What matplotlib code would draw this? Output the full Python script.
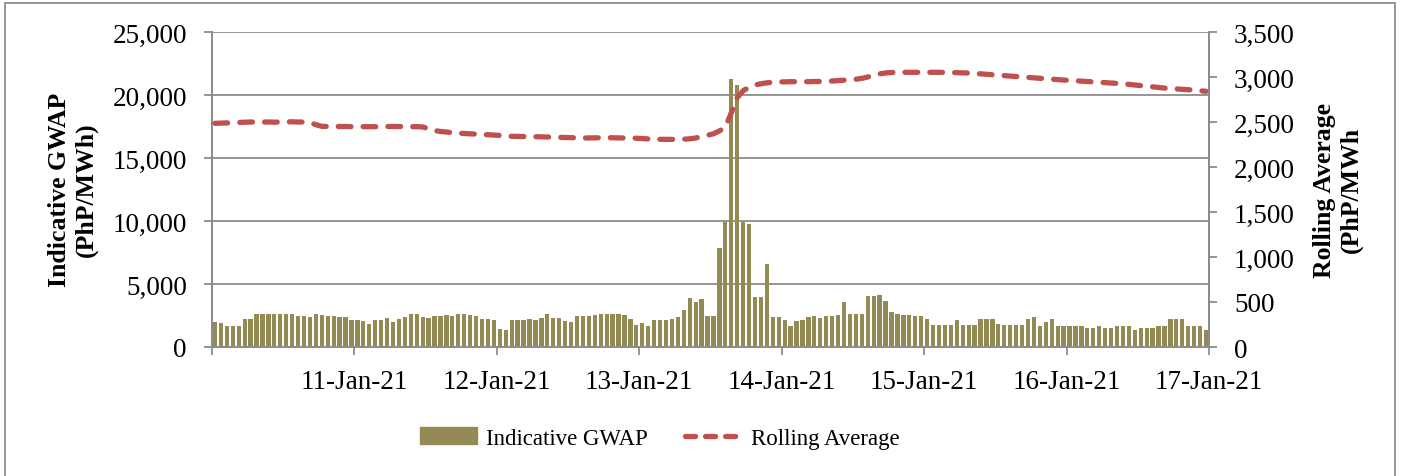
import matplotlib
matplotlib.use("Agg")
import matplotlib.pyplot as plt
import numpy as np
from matplotlib.patches import Rectangle
from matplotlib.lines import Line2D
from matplotlib.patches import Patch

plt.rcParams['font.family'] = ['Liberation Serif', 'DejaVu Serif']

# hourly Indicative GWAP, 10-Jan-21 00:00 .. 16-Jan-21 23:00 (PhP/MWh)
gwap_d1 = [2020, 1915, 1700, 1700, 1700, 2200, 2200, 2580, 2580, 2580, 2580, 2580,
           2580, 2580, 2450, 2450, 2420, 2580, 2530, 2450, 2450, 2420, 2420, 2180]
gwap_d2 = [2180, 2100, 1835, 2150, 2150, 2310, 2020, 2200, 2420, 2580, 2580, 2420,
           2290, 2470, 2470, 2530, 2450, 2580, 2580, 2530, 2450, 2260, 2260, 2150]
gwap_d3 = [1435, 1380, 2150, 2150, 2150, 2200, 2180, 2340, 2580, 2310, 2340, 2100,
           1970, 2470, 2470, 2470, 2530, 2580, 2580, 2580, 2580, 2560, 2200, 1730]
gwap_d4 = [1940, 1650, 2130, 2130, 2150, 2230, 2370, 2925, 3860, 3560, 3830, 2500,
           2500, 7820, 9920, 21280, 20770, 9890, 9760, 3960, 3960, 6620, 2420, 2370]
gwap_d5 = [2180, 1650, 2100, 2180, 2370, 2500, 2310, 2500, 2500, 2540, 3580, 2580,
           2580, 2580, 4040, 4040, 4150, 3620, 2740, 2580, 2530, 2530, 2470, 2470]
gwap_d6 = [2230, 1730, 1730, 1730, 1730, 2180, 1730, 1730, 1730, 2230, 2230, 2230,
           1860, 1730, 1730, 1730, 1730, 2230, 2390, 1700, 2020, 2230, 1700, 1700]
gwap_d7 = [1700, 1700, 1700, 1520, 1520, 1700, 1520, 1520, 1700, 1700, 1700, 1360,
           1520, 1520, 1520, 1700, 1700, 2230, 2230, 2230, 1650, 1700, 1700, 1360]

# rolling average
roll_d1 = [2485, 2488, 2490, 2492, 2495, 2497, 2500, 2500, 2500, 2500, 2498, 2500,
           2502, 2502, 2500, 2500, 2495, 2470, 2452, 2450, 2450, 2450, 2450, 2448]
roll_d2 = [2448, 2448, 2448, 2448, 2448, 2450, 2450, 2450, 2450, 2448, 2448, 2445,
           2425, 2405, 2395, 2388, 2382, 2376, 2372, 2368, 2365, 2362, 2359, 2355]
roll_d3 = [2350, 2345, 2341, 2340, 2339, 2338, 2337, 2335, 2333, 2331, 2330, 2328,
           2325, 2323, 2322, 2323, 2325, 2326, 2326, 2325, 2324, 2323, 2322, 2320]
roll_d4 = [2316, 2312, 2308, 2307, 2307, 2307, 2307, 2309, 2313, 2322, 2338, 2352,
           2370, 2400, 2445, 2600, 2770, 2848, 2885, 2911, 2925, 2935, 2942, 2946]
roll_d5 = [2946, 2948, 2948, 2948, 2948, 2950, 2950, 2952, 2955, 2960, 2965, 2970,
           2975, 2985, 3000, 3022, 3035, 3045, 3050, 3052, 3052, 3052, 3052, 3052]
roll_d6 = [3052, 3052, 3052, 3052, 3050, 3048, 3046, 3044, 3040, 3035, 3030, 3026,
           3020, 3015, 3010, 3004, 3000, 2995, 2990, 2986, 2980, 2976, 2971, 2966]
roll_d7 = [2963, 2958, 2954, 2950, 2946, 2942, 2938, 2934, 2929, 2924, 2918, 2911,
           2905, 2898, 2891, 2884, 2877, 2872, 2868, 2863, 2859, 2853, 2847, 2841]

day_labels = ['', '11-Jan-21', '12-Jan-21', '13-Jan-21', '14-Jan-21',
              '15-Jan-21', '16-Jan-21', '17-Jan-21']

gwap = np.array(gwap_d1 + gwap_d2 + gwap_d3 + gwap_d4 + gwap_d5 + gwap_d6 + gwap_d7)
roll = np.array(roll_d1 + roll_d2 + roll_d3 + roll_d4 + roll_d5 + roll_d6 + roll_d7)
hours = np.arange(len(gwap)) + 0.5

bar_col = '#948A54'
line_col = '#C0504D'
grid_col = '#8C8C8C'

fig = plt.figure(figsize=(14.05, 4.77), dpi=100)
ax = fig.add_axes([212/1405, 1-348/477, (1209-212)/1405, (348-33)/477])
ax2 = ax.twinx()

ax.bar(hours, gwap, width=0.72, color=bar_col, zorder=2)
ax2.plot(hours, roll, color=line_col, lw=3.8, dashes=(2.4, 2.3),
         dash_capstyle='round', zorder=3)

ax.set_xlim(0, 168)
ax.set_ylim(0, 25000)
ax2.set_ylim(0, 3500)
ax.set_yticks(np.arange(0, 25001, 5000))
ax2.set_yticks(np.arange(0, 3501, 500))
ax.yaxis.set_major_formatter(matplotlib.ticker.StrMethodFormatter('{x:,.0f}'))
ax2.yaxis.set_major_formatter(matplotlib.ticker.StrMethodFormatter('{x:,.0f}'))
ax.set_xticks(np.arange(0, 169, 24))
ax.set_xticklabels(day_labels)

ax.set_axisbelow(True)
ax.grid(axis='y', color=grid_col, lw=1.3)
for a in (ax, ax2):
    for s in a.spines.values():
        s.set_color(grid_col)
        s.set_linewidth(1.3)
    a.spines['top'].set_visible(False)
    a.tick_params(colors=grid_col, labelcolor='black', labelsize=19.5,
                  length=6, width=1.3, pad=12)
ax.tick_params(axis='x', pad=10)

fig.text(73/1405, 1-190/477, 'Indicative GWAP\n(PhP/MWh)', rotation=90,
         ha='center', va='center', fontsize=18.5, fontweight='bold')
fig.text(1338/1405, 1-190/477, 'Rolling Average\n(PhP/MWh', rotation=90,
         ha='center', va='center', fontsize=18.5, fontweight='bold')

handles = [Patch(color=bar_col, label='Indicative GWAP'),
           Line2D([0], [0], color=line_col, lw=3.8, dashes=(1.9, 1.9),
                  dash_capstyle='round', label='Rolling Average')]
fig.legend(handles=handles, loc='center', bbox_to_anchor=(660/1405, 1-439/477),
           ncol=2, frameon=False, fontsize=16.5, handlelength=2.5,
           handletextpad=0.4, columnspacing=1.6)

# outer chart border
fig.patches.append(Rectangle((5/1405, -0.05), 1390/1405, 1.05-4/477,
                             transform=fig.transFigure, fill=False,
                             edgecolor='#8C8C8C', lw=1.3))

fig.savefig('out.png', dpi=100)
